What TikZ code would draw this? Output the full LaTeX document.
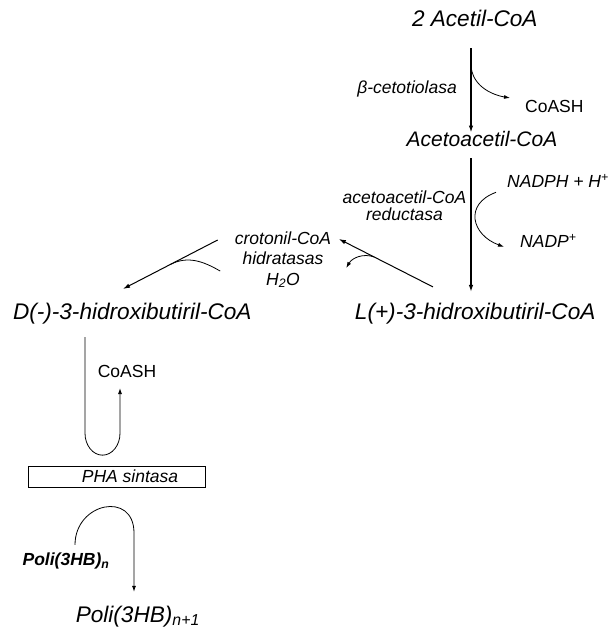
\documentclass[tikz,border=0pt]{standalone}
\usepackage{fontspec}
\setmainfont{Liberation Sans}
\usetikzlibrary{arrows.meta, positioning}
\tikzstyle{compound} = [
  font=\fontsize{22.6}{27}\selectfont\itshape,
  inner sep=2pt
]
\tikzstyle{enzyme} = [
  font=\fontsize{17.5}{20.5}\selectfont\itshape,
  align=center,
  inner sep=2pt
]
\tikzstyle{cofactor} = [
  font=\fontsize{17.5}{20.5}\selectfont,
  inner sep=2pt
]
\tikzstyle{enzbox} = [
  rectangle,
  draw=black,
  line width=0.8pt,
  minimum width=177pt,
  minimum height=21pt,
  inner sep=0,
  font=\fontsize{17.5}{20.5}\selectfont\itshape
]
\tikzstyle{arrow} = [
  line width=1.3pt,
  -{Latex[length=7pt,width=4.5pt]}
]
\tikzstyle{side} = [
  line width=0.8pt
]
\tikzstyle{sidearrow} = [
  line width=0.8pt,
  -{Latex[length=6pt,width=4pt]}
]

\begin{document}
\begin{tikzpicture}[x=1pt, y=1pt]
      \useasboundingbox (0,0) rectangle (610,630);
      \coordinate (axis) at (471,0);

      \node [compound, anchor=base] (acetil) at (474.8,603) {2 Acetil-CoA};
      \node [compound, anchor=base, font=\fontsize{21}{25}\selectfont\itshape] (acetoacetil) at (482,483) {Acetoacetil-CoA};
      \node [compound, anchor=base] (lhb) at (475.2,310) {L(+)-3-hidroxibutiril-CoA};
      \node [compound, anchor=base] (dhb) at (132.3,310) {D(-)-3-hidroxibutiril-CoA};
      \node [enzbox] (sintasa) at (116.5,153.5) {\hspace*{27pt}PHA sintasa};
      \node [enzyme, anchor=base, font=\fontsize{17.5}{20.5}\selectfont\bfseries\itshape] (polin) at (66,64) {Poli(3HB)\textsubscript{n}};
      \node [compound, anchor=base] (polin1) at (137.8,8) {Poli(3HB)\textsubscript{n+1}};

      \node [enzyme, anchor=base east] (cetotiolasa) at (459,536) {β-cetotiolasa};
      \node [cofactor, anchor=base west] (coash1) at (523,517) {CoASH};
      \node [enzyme, anchor=north, font=\fontsize{17.5}{17}\selectfont\itshape] (reductasa) at (404.5,441.5) {acetoacetil-CoA\\reductasa};
      \node [enzyme, anchor=base west] (nadph) at (505,442) {NADPH + H\textsuperscript{+}};
      \node [enzyme, anchor=base west] (nadp) at (518,382) {NADP\textsuperscript{+}};
      \node [enzyme, anchor=north] (crotonil) at (283,400.6) {crotonil-CoA\\hidratasas\\H\textsubscript{2}O};
      \node [cofactor, anchor=base] (coash2) at (127,252) {CoASH};

      % beta-oxidation side
      \draw [arrow, shorten <=19pt, shorten >=-3pt] (acetil.south -| axis) -- coordinate[pos=0.355] (betajoin) (acetoacetil.north -| axis);
      \draw [sidearrow] (betajoin) to[out=-88, in=170] ([xshift=-13pt,yshift=9pt]coash1.west);
      \draw [arrow, shorten <=8.7pt, shorten >=9.5pt] (acetoacetil.south -| axis) -- (lhb.north -| axis);
      \draw [sidearrow] ([xshift=-9pt,yshift=-11pt]nadph.west) to[out=200, in=160, looseness=1.6] ([xshift=-14pt,yshift=-5.5pt]nadp.west);

      % epimerization through crotonil-CoA
      \draw [arrow, line width=1pt] ([xshift=-42.2pt,yshift=14.5pt]lhb.north) -- coordinate[pos=0.624] (hookjoin) ([xshift=5.5pt,yshift=-9.6pt]crotonil.north east);
      \draw [sidearrow] (hookjoin) to[out=160, in=60] ++(-28,-11);
      \draw [arrow, line width=1pt] ([xshift=-15pt,yshift=-10.6pt]crotonil.north west) -- coordinate[pos=0.5] (waterjoin) ([xshift=-9.3pt,yshift=12.5pt]dhb.north);
      \draw [side] ([xshift=-12.5pt,yshift=-11.3pt]crotonil.west) to[out=150, in=27] (waterjoin);

      % PHA sintasa
      \draw [sidearrow] ([xshift=-47.3pt,yshift=-10.3pt]dhb.south) -- ++(0,-96) arc[start angle=180, end angle=360, x radius=17.5pt, y radius=22pt] -- ([xshift=-7pt,yshift=-7.7pt]coash2.south);
      \draw [sidearrow] ([xshift=9pt,yshift=6.2pt]polin.north) to[out=90, in=90, looseness=1.8] ++(59,12) -- ([xshift=-3.8pt,yshift=11.6pt]polin1.north);

    \end{tikzpicture}
\end{document}
